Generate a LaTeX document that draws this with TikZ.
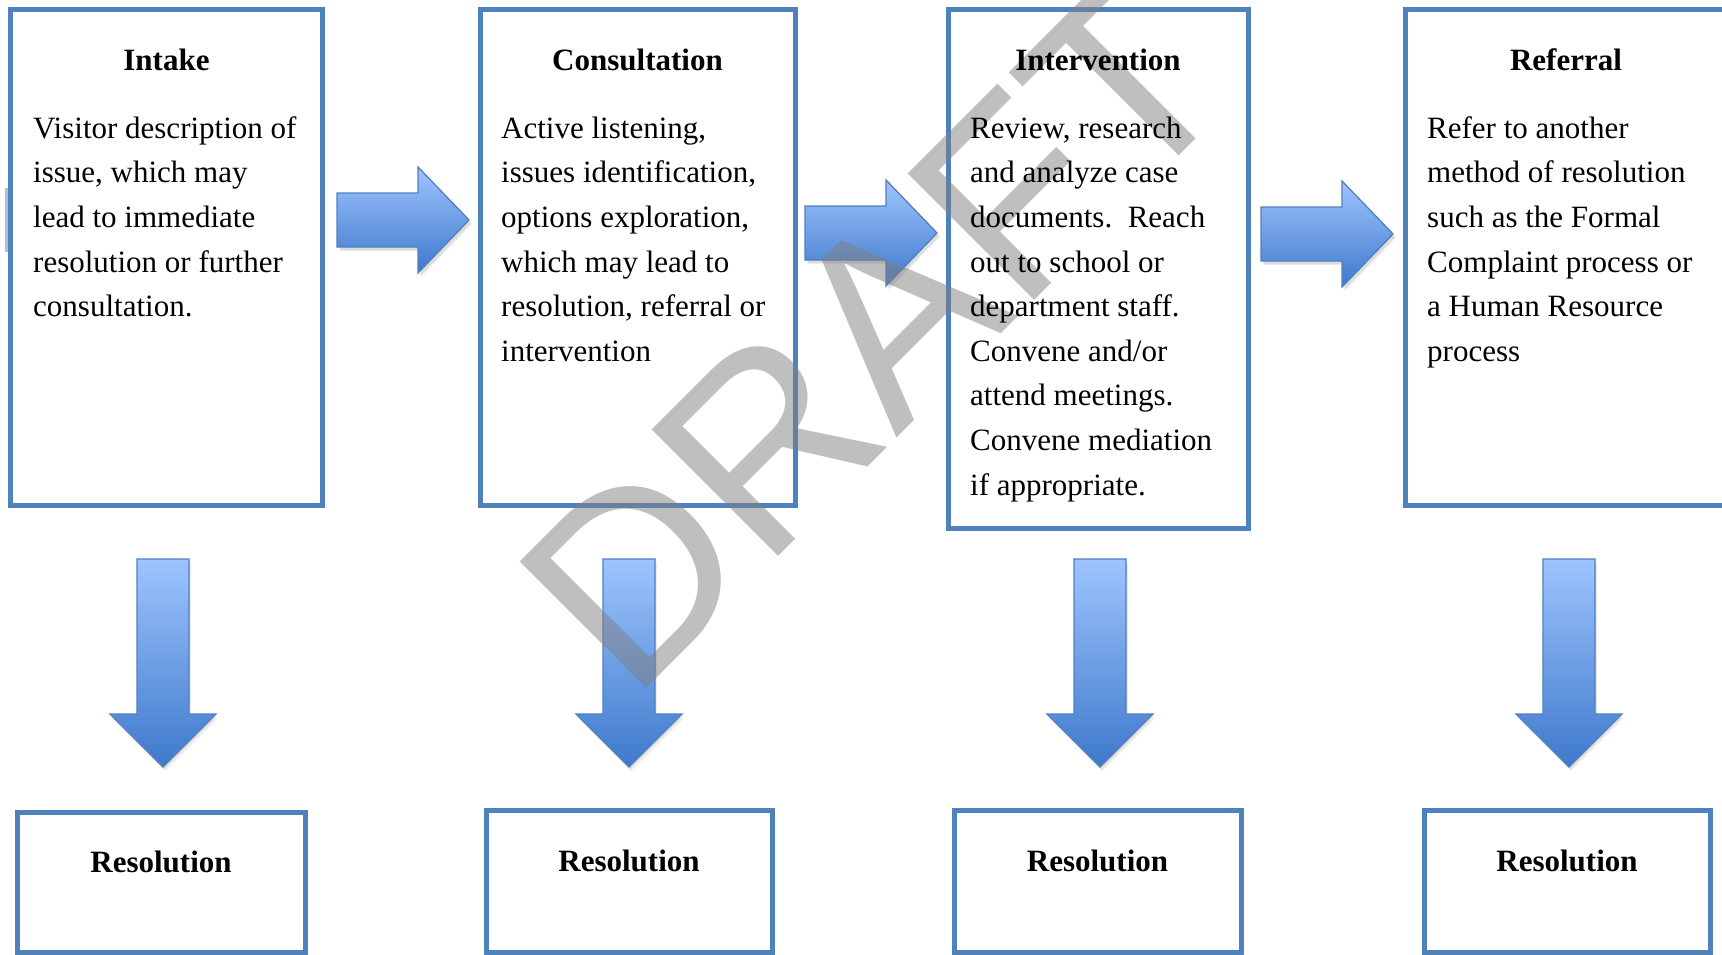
\documentclass[tikz,border=0pt]{standalone}
\usepackage{fontspec}
\setmainfont{Liberation Serif}
\newfontfamily\wmfont{Liberation Sans}
\definecolor{boxblue}{RGB}{79,129,189}
\definecolor{arrowtop}{RGB}{158,196,255}
\definecolor{arrowbot}{RGB}{62,121,203}
\definecolor{arrowline}{RGB}{80,128,190}
\definecolor{sliver}{RGB}{178,192,212}
\newcommand\myDownArrow[2]{\path[#2] ({#1-26},559) -- ({#1+26},559) -- ({#1+26},714) -- ({#1+53},714) -- ({#1},767) -- ({#1-53},714) -- ({#1-26},714) -- cycle;}
\newcommand\myRightArrow[3]{\path[#3] ({#1},{#2-27}) -- ({#1+81},{#2-27}) -- ({#1+81},{#2-53}) -- ({#1+132},{#2}) -- ({#1+81},{#2+53}) -- ({#1+81},{#2+27}) -- ({#1},{#2+27}) -- cycle;}
\begin{document}
\begin{tikzpicture}[x=1pt,y=-1pt,
  box/.style={draw=boxblue, line width=5pt, inner sep=0pt},
  body/.style={anchor=north west, inner sep=0pt, align=left, font=\fontsize{31}{44.6}\selectfont},
  ttl/.style={anchor=base, inner sep=0pt, font=\bfseries\fontsize{31}{37}\selectfont},
  blockarrow/.style={top color=arrowtop, bottom color=arrowbot, draw=arrowline, line width=1.3pt, line join=miter},
  arrowshadow/.style={fill=black, opacity=0.07}]
\useasboundingbox (0,0) rectangle (1722,955);
\clip (0,0) rectangle (1722,955);
\fill[white] (0,0) rectangle (1722,955);
\fill[sliver] (5,188) rectangle (10,252);
% top boxes
\node[box, minimum width=312pt, minimum height=495pt] (intake) at (166.5,257.5) {};
\node[box, minimum width=315pt, minimum height=495pt] (consult) at (637.5,257.5) {};
\node[box, minimum width=300pt, minimum height=518pt] (interv) at (1098,269) {};
\node[box, minimum width=325pt, minimum height=495pt] (referral) at (1567.5,257.5) {};
% resolution boxes
\node[box, minimum width=288pt, minimum height=140pt] (res1) at (161,882) {};
\node[box, minimum width=286pt, minimum height=142pt] (res2) at (629,881) {};
\node[box, minimum width=287pt, minimum height=142pt] (res3) at (1097.5,881) {};
\node[box, minimum width=286pt, minimum height=142pt] (res4) at (1567,881) {};
% right arrows (soft shadows)
\myRightArrow{339}{223}{arrowshadow}
\myRightArrow{340}{224}{arrowshadow}
\myRightArrow{337}{220}{blockarrow}
\myRightArrow{807}{236}{arrowshadow}
\myRightArrow{808}{237}{arrowshadow}
\myRightArrow{805}{233}{blockarrow}
\myRightArrow{1263}{237}{arrowshadow}
\myRightArrow{1264}{238}{arrowshadow}
\myRightArrow{1261}{234}{blockarrow}
% down arrows
\myDownArrow{164}{arrowshadow, yshift=-2pt}
\myDownArrow{165}{arrowshadow, yshift=-4pt}
\myDownArrow{163}{blockarrow}
\myDownArrow{630}{arrowshadow, yshift=-2pt}
\myDownArrow{631}{arrowshadow, yshift=-4pt}
\myDownArrow{629}{blockarrow}
\myDownArrow{1101}{arrowshadow, yshift=-2pt}
\myDownArrow{1102}{arrowshadow, yshift=-4pt}
\myDownArrow{1100}{blockarrow}
\myDownArrow{1570}{arrowshadow, yshift=-2pt}
\myDownArrow{1571}{arrowshadow, yshift=-4pt}
\myDownArrow{1569}{blockarrow}
% watermark
\node[anchor=base west, rotate=45, inner sep=0pt, text=black!50, opacity=0.5] (wm) at (631,704) {\wmfont\fontsize{260}{260}\selectfont DRAFT};
% titles
\node[ttl] (tintake) at (166.5,71) {Intake};
\node[ttl] (tconsult) at (637.5,71) {Consultation};
\node[ttl] (tinterv) at (1098,71) {Intervention};
\node[ttl] (treferral) at (1566,71) {Referral};
% bodies
\node[body] (bintake) at (33,108) {\rule{0pt}{30pt}Visitor description of\\issue, which may\\lead to immediate\\resolution or further\\consultation.};
\node[body] (bconsult) at (501,108) {\rule{0pt}{30pt}Active listening,\\issues identification,\\options exploration,\\which may lead to\\resolution, referral or\\intervention};
\node[body] (binterv) at (970,108) {\rule{0pt}{30pt}Review, research\\and analyze case\\documents.\ \ Reach\\out to school or\\department staff.\\Convene and/or\\attend meetings.\\Convene mediation\\if appropriate.};
\node[body] (breferral) at (1427,108) {\rule{0pt}{30pt}Refer to another\\method of resolution\\such as the Formal\\Complaint process or\\a Human Resource\\process};
% resolution titles
\node[ttl] (tres1) at (161,872) {Resolution};
\node[ttl] (tres2) at (629,871) {Resolution};
\node[ttl] (tres3) at (1097.5,871) {Resolution};
\node[ttl] (tres4) at (1567,871) {Resolution};
\end{tikzpicture}
\end{document}
